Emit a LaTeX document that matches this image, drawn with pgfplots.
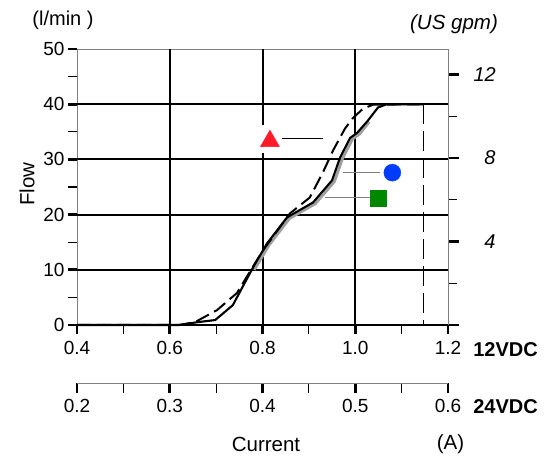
\documentclass[border=0pt]{standalone}
\usepackage{pgfplots}
\pgfplotsset{compat=1.18}
\usepackage{fontspec}
\setmainfont{Liberation Sans}
\definecolor{mred}{RGB}{255,26,40}
\definecolor{mblue}{RGB}{0,60,255}
\definecolor{mgreen}{RGB}{0,135,0}
\newcommand{\fs}[1]{\fontsize{#1}{#1}\selectfont}
\begin{document}
\begin{tikzpicture}
\useasboundingbox (-77pt,-132pt) rectangle (479pt,325pt);
% main axis (12VDC, l/min)
\begin{axis}[
  at={(0pt,0pt)}, anchor=south west,
  scale only axis, width=371pt, height=276pt,
  xmin=0.4, xmax=1.2, ymin=0, ymax=50,
  xtick={0.4,0.6,0.8,1.0,1.2}, minor xtick={0.5,0.7,0.9,1.1},
  ytick={0,10,20,30,40,50}, minor ytick={5,15,25,35,45},
  xtick pos=bottom, ytick pos=left,
  tick align=outside,
  major tick length=9pt, minor tick length=9pt,
  major tick style={line width=2.6pt, black},
  minor tick style={line width=1.1pt, black},
  axis line style={gray, line width=0.8pt},
  /pgf/number format/assume math mode=true,
  xticklabel style={font=\fs{19}, yshift=-4pt, /pgf/number format/.cd, fixed, fixed zerofill, precision=1},
  yticklabel style={font=\fs{19}},
  extra x ticks={0.6,0.8,1.0}, extra x tick labels={},
  extra x tick style={grid=major, major tick length=0pt},
  extra y ticks={0,10,20,30,40}, extra y tick labels={},
  extra y tick style={grid=major, major tick length=0pt},
  major grid style={black, line width=2pt},
  clip=false,
]
% white gap behind triangle
\addplot[white, line width=5pt] coordinates {(0.8,31.1)(0.8,36.2)};
% grey shadow curve
\addplot[gray!75, line width=3pt] coordinates {
 (0.782,10.0)(0.815,14.6)(0.858,19.3)(0.914,22.0)(0.955,26.0)(0.972,30.1)(0.994,33.7)(1.009,34.6)(1.030,36.8)};
% solid curve
\addplot[black, line width=2.1pt] coordinates {
 (0.4,0)(0.62,0)(0.659,0.5)(0.698,0.9)(0.736,3.6)(0.780,10.5)(0.810,14.8)(0.853,19.5)
 (0.909,22.2)(0.950,26.2)(0.967,30.3)(0.989,33.9)(1.004,34.8)(1.027,37.0)(1.049,39.4)(1.068,40)(1.147,40)};
% dashed curve
\addplot[black, line width=2pt, dash pattern=on 14pt off 6pt] coordinates {
 (0.4,0)(0.62,0)(0.654,0.5)(0.702,2.7)(0.745,5.8)(0.784,11.2)(0.801,13.5)(0.859,20.2)
 (0.902,23.1)(0.930,27.6)(0.952,31.6)(0.978,35.6)(0.995,37.5)(1.017,39.2)(1.038,39.9)(1.147,40)};
% vertical dashed limit
\addplot[black, line width=1.2pt, dash pattern=on 20pt off 7pt] coordinates {(1.147,40)(1.147,0)};
% leader lines
\addplot[black, line width=1pt] coordinates {(0.842,33.7)(0.930,33.7)};
\addplot[gray, line width=1pt] coordinates {(0.974,27.6)(1.053,27.6)};
\addplot[gray, line width=1pt] coordinates {(0.935,23.05)(1.032,23.05)};
% markers
\addplot[only marks, mark=triangle*, mark size=11pt, color=mred] coordinates {(0.816,33.3)};
\addplot[only marks, mark=*, mark size=8.5pt, color=mblue] coordinates {(1.080,27.6)};
\addplot[only marks, mark=square*, mark size=8pt, color=mgreen] coordinates {(1.050,23.05)};
\end{axis}
% right axis (US gpm)
\begin{axis}[
  at={(0pt,0pt)}, anchor=south west,
  scale only axis, width=371pt, height=276pt,
  xmin=0.4, xmax=1.2, ymin=0, ymax=13.21,
  axis y line*=right, hide x axis,
  ytick={0,4,8,12}, yticklabels={,4,8,12}, minor ytick={2,6,10},
  tick align=outside,
  major tick length=11pt, minor tick length=9pt,
  major tick style={line width=2.6pt, black},
  minor tick style={line width=1.1pt, black},
  axis line style={gray, line width=0.8pt},
  /pgf/number format/assume math mode=true,
  yticklabel style={font=\itshape\fs{20}, anchor=west, text width=22pt, align=right, xshift=11pt},
]
\addplot[draw=none] coordinates {(0.5,1)};
\end{axis}
% second x axis (24VDC)
\begin{axis}[
  at={(0pt,-58pt)}, anchor=south west,
  scale only axis, width=371pt, height=10pt,
  xmin=0.2, xmax=0.6, ymin=0, ymax=1,
  axis x line*=bottom, hide y axis,
  xtick={0.2,0.3,0.4,0.5,0.6}, minor xtick={0.25,0.35,0.45,0.55},
  tick align=outside,
  major tick length=10pt, minor tick length=10pt,
  major tick style={line width=2.6pt, black},
  minor tick style={line width=1.1pt, black},
  axis line style={gray, line width=0.8pt},
  /pgf/number format/assume math mode=true,
  xticklabel style={font=\fs{19}, yshift=-3pt, /pgf/number format/.cd, fixed, fixed zerofill, precision=1},
]
\addplot[draw=none] coordinates {(0.3,0.5)};
\end{axis}
\node[font=\fs{20}] at (-14pt,305pt) {(l/min )};
\node[font=\itshape\fs{20.5}] at (377pt,301pt) {(US gpm)};
\node[rotate=90, font=\fs{20.5}] at (-50pt,141pt) {Flow};
\node[font=\fs{20.5}] at (189pt,-119pt) {Current};
\node[font=\fs{20.5}] at (373.5pt,-119pt) {(A)};
\node[font=\bfseries\fs{20}] at (428.5pt,-25pt) {12VDC};
\node[font=\bfseries\fs{20}] at (428.5pt,-82pt) {24VDC};
\end{tikzpicture}
\end{document}
